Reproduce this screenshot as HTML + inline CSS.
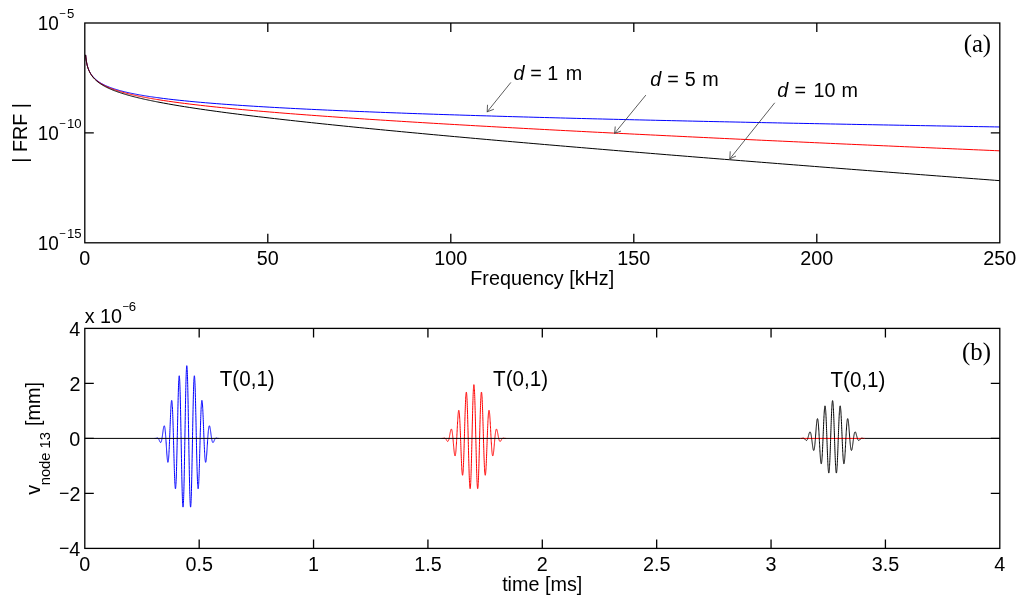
<!DOCTYPE html>
<html><head><meta charset="utf-8"><title>FRF and time response</title><style>
html,body{margin:0;padding:0;background:#fff;width:1024px;height:601px;overflow:hidden}
svg{display:block;will-change:transform}
</style></head><body>
<svg width="1024" height="601" viewBox="0 0 1024 601">
<rect width="1024" height="601" fill="#fff"/>
<polyline points="85.61,54.87 85.72,56.08 85.83,57.15 85.94,58.11 86.05,58.99 86.16,59.78 86.27,60.52 86.38,61.20 86.49,61.84 86.60,62.44 86.71,63.00 86.82,63.53 86.93,64.03 87.04,64.50 87.15,64.96 87.26,65.39 87.37,65.80 87.48,66.20 87.59,66.58 87.70,66.94 87.81,67.29 87.92,67.63 88.03,67.96 88.14,68.28 88.26,68.58 88.37,68.88 88.48,69.17 88.59,69.44 88.70,69.72 88.81,69.98 88.92,70.23 89.03,70.48 89.14,70.73 89.25,70.96 89.36,71.20 89.47,71.42 89.58,71.64 89.69,71.86 89.80,72.07 89.91,72.27 90.02,72.47 90.13,72.67 90.24,72.87 90.35,73.06 90.46,73.24 90.57,73.42 90.68,73.60 90.79,73.78 90.91,73.95 91.02,74.12 91.13,74.29 91.24,74.45 91.35,74.61 91.46,74.77 91.57,74.92 91.68,75.08 91.79,75.23 91.90,75.37 92.01,75.52 92.12,75.66 92.95,76.68 93.79,77.60 94.62,78.44 95.46,79.21 96.29,79.93 97.12,80.59 97.96,81.21 98.79,81.80 99.63,82.35 100.46,82.87 101.29,83.36 102.13,83.83 102.96,84.28 103.79,84.70 104.63,85.11 105.46,85.50 106.30,85.88 107.13,86.25 107.96,86.60 108.80,86.93 109.63,87.26 110.47,87.58 111.30,87.88 112.13,88.18 112.97,88.47 113.80,88.75 114.64,89.02 115.47,89.28 116.30,89.54 117.14,89.79 117.97,90.04 118.81,90.27 119.64,90.51 120.47,90.74 121.31,90.96 122.14,91.18 122.98,91.39 123.81,91.60 124.64,91.80 125.48,92.00 126.31,92.20 127.14,92.39 127.98,92.58 128.81,92.76 129.65,92.95 130.48,93.13 131.31,93.30 132.15,93.47 132.98,93.64 133.82,93.81 134.65,93.97 135.48,94.14 136.32,94.29 137.15,94.45 137.99,94.60 138.82,94.76 139.65,94.91 140.49,95.05 141.32,95.20 142.16,95.34 142.99,95.48 143.82,95.62 144.66,95.76 145.49,95.89 146.33,96.03 147.16,96.16 147.99,96.29 148.83,96.42 149.66,96.55 150.49,96.67 151.33,96.80 152.16,96.92 153.00,97.04 153.83,97.16 154.66,97.28 155.50,97.39 156.33,97.51 157.17,97.62 158.00,97.74 163.29,98.43 168.59,99.08 173.88,99.69 179.18,100.26 184.47,100.81 189.77,101.33 195.06,101.83 200.35,102.30 205.65,102.76 210.94,103.20 216.24,103.62 221.53,104.02 226.83,104.42 232.12,104.79 237.42,105.16 242.71,105.52 248.00,105.86 253.30,106.20 258.59,106.52 263.89,106.84 269.18,107.15 274.48,107.45 279.77,107.74 285.06,108.03 290.36,108.31 295.65,108.58 300.95,108.85 306.24,109.11 311.54,109.37 316.83,109.62 322.12,109.86 327.42,110.11 332.71,110.34 338.01,110.58 343.30,110.81 348.60,111.03 353.89,111.25 359.18,111.47 364.48,111.68 369.77,111.89 375.07,112.10 380.36,112.31 385.66,112.51 390.95,112.71 396.25,112.90 401.54,113.09 406.83,113.29 412.13,113.47 417.42,113.66 422.72,113.84 428.01,114.02 433.31,114.20 438.60,114.38 443.89,114.55 449.19,114.72 454.48,114.89 459.78,115.06 465.07,115.23 470.37,115.39 475.66,115.55 480.95,115.72 486.25,115.87 491.54,116.03 496.84,116.19 502.13,116.34 507.43,116.50 512.72,116.65 518.02,116.80 523.31,116.95 528.60,117.09 533.90,117.24 539.19,117.38 544.49,117.53 549.78,117.67 555.08,117.81 560.37,117.95 565.66,118.09 570.96,118.23 576.25,118.36 581.55,118.50 586.84,118.63 592.14,118.77 597.43,118.90 602.72,119.03 608.02,119.16 613.31,119.29 618.61,119.42 623.90,119.54 629.20,119.67 634.49,119.80 639.78,119.92 645.08,120.04 650.37,120.17 655.67,120.29 660.96,120.41 666.26,120.53 671.55,120.65 676.85,120.77 682.14,120.89 687.43,121.00 692.73,121.12 698.02,121.24 703.32,121.35 708.61,121.47 713.91,121.58 719.20,121.69 724.49,121.81 729.79,121.92 735.08,122.03 740.38,122.14 745.67,122.25 750.97,122.36 756.26,122.47 761.55,122.58 766.85,122.69 772.14,122.79 777.44,122.90 782.73,123.01 788.03,123.11 793.32,123.22 798.62,123.32 803.91,123.43 809.20,123.53 814.50,123.63 819.79,123.73 825.09,123.84 830.38,123.94 835.68,124.04 840.97,124.14 846.26,124.24 851.56,124.34 856.85,124.44 862.15,124.54 867.44,124.64 872.74,124.73 878.03,124.83 883.32,124.93 888.62,125.02 893.91,125.12 899.21,125.22 904.50,125.31 909.80,125.41 915.09,125.50 920.38,125.60 925.68,125.69 930.97,125.78 936.27,125.88 941.56,125.97 946.86,126.06 952.15,126.15 957.45,126.25 962.74,126.34 968.03,126.43 973.33,126.52 978.62,126.61 983.92,126.70 989.21,126.79 994.51,126.88 999.80,126.97" fill="none" stroke="#0000ff" stroke-width="1" stroke-linejoin="round"/>
<polyline points="85.61,54.89 85.72,56.11 85.83,57.18 85.94,58.14 86.05,59.02 86.16,59.82 86.27,60.56 86.38,61.24 86.49,61.88 86.60,62.48 86.71,63.05 86.82,63.58 86.93,64.08 87.04,64.56 87.15,65.02 87.26,65.45 87.37,65.87 87.48,66.27 87.59,66.65 87.70,67.02 87.81,67.37 87.92,67.71 88.03,68.04 88.14,68.36 88.26,68.67 88.37,68.97 88.48,69.26 88.59,69.54 88.70,69.82 88.81,70.08 88.92,70.34 89.03,70.59 89.14,70.84 89.25,71.08 89.36,71.31 89.47,71.54 89.58,71.77 89.69,71.98 89.80,72.20 89.91,72.41 90.02,72.61 90.13,72.81 90.24,73.01 90.35,73.20 90.46,73.39 90.57,73.57 90.68,73.76 90.79,73.93 90.91,74.11 91.02,74.28 91.13,74.45 91.24,74.62 91.35,74.78 91.46,74.94 91.57,75.10 91.68,75.25 91.79,75.41 91.90,75.56 92.01,75.71 92.12,75.85 92.95,76.90 93.79,77.84 94.62,78.70 95.46,79.49 96.29,80.23 97.12,80.91 97.96,81.56 98.79,82.16 99.63,82.73 100.46,83.27 101.29,83.79 102.13,84.28 102.96,84.75 103.79,85.20 104.63,85.63 105.46,86.04 106.30,86.44 107.13,86.83 107.96,87.20 108.80,87.56 109.63,87.91 110.47,88.25 111.30,88.57 112.13,88.89 112.97,89.20 113.80,89.50 114.64,89.80 115.47,90.08 116.30,90.36 117.14,90.63 117.97,90.90 118.81,91.16 119.64,91.42 120.47,91.67 121.31,91.91 122.14,92.15 122.98,92.38 123.81,92.62 124.64,92.84 125.48,93.06 126.31,93.28 127.14,93.50 127.98,93.71 128.81,93.91 129.65,94.12 130.48,94.32 131.31,94.51 132.15,94.71 132.98,94.90 133.82,95.09 134.65,95.27 135.48,95.46 136.32,95.64 137.15,95.82 137.99,95.99 138.82,96.16 139.65,96.34 140.49,96.50 141.32,96.67 142.16,96.84 142.99,97.00 143.82,97.16 144.66,97.32 145.49,97.48 146.33,97.63 147.16,97.79 147.99,97.94 148.83,98.09 149.66,98.24 150.49,98.38 151.33,98.53 152.16,98.67 153.00,98.82 153.83,98.96 154.66,99.10 155.50,99.24 156.33,99.37 157.17,99.51 158.00,99.65 163.29,100.47 168.59,101.26 173.88,102.01 179.18,102.72 184.47,103.41 189.77,104.07 195.06,104.70 200.35,105.32 205.65,105.91 210.94,106.49 216.24,107.05 221.53,107.59 226.83,108.12 232.12,108.64 237.42,109.14 242.71,109.63 248.00,110.12 253.30,110.59 258.59,111.05 263.89,111.51 269.18,111.95 274.48,112.39 279.77,112.82 285.06,113.25 290.36,113.67 295.65,114.08 300.95,114.48 306.24,114.88 311.54,115.28 316.83,115.67 322.12,116.05 327.42,116.43 332.71,116.81 338.01,117.18 343.30,117.55 348.60,117.91 353.89,118.27 359.18,118.62 364.48,118.98 369.77,119.33 375.07,119.67 380.36,120.01 385.66,120.35 390.95,120.69 396.25,121.02 401.54,121.35 406.83,121.68 412.13,122.01 417.42,122.33 422.72,122.65 428.01,122.97 433.31,123.29 438.60,123.60 443.89,123.91 449.19,124.22 454.48,124.53 459.78,124.84 465.07,125.14 470.37,125.45 475.66,125.75 480.95,126.05 486.25,126.34 491.54,126.64 496.84,126.93 502.13,127.23 507.43,127.52 512.72,127.81 518.02,128.09 523.31,128.38 528.60,128.67 533.90,128.95 539.19,129.23 544.49,129.51 549.78,129.79 555.08,130.07 560.37,130.35 565.66,130.63 570.96,130.90 576.25,131.18 581.55,131.45 586.84,131.72 592.14,132.00 597.43,132.27 602.72,132.53 608.02,132.80 613.31,133.07 618.61,133.34 623.90,133.60 629.20,133.87 634.49,134.13 639.78,134.39 645.08,134.65 650.37,134.91 655.67,135.17 660.96,135.43 666.26,135.69 671.55,135.95 676.85,136.21 682.14,136.46 687.43,136.72 692.73,136.97 698.02,137.23 703.32,137.48 708.61,137.73 713.91,137.99 719.20,138.24 724.49,138.49 729.79,138.74 735.08,138.99 740.38,139.24 745.67,139.48 750.97,139.73 756.26,139.98 761.55,140.23 766.85,140.47 772.14,140.72 777.44,140.96 782.73,141.21 788.03,141.45 793.32,141.69 798.62,141.93 803.91,142.18 809.20,142.42 814.50,142.66 819.79,142.90 825.09,143.14 830.38,143.38 835.68,143.62 840.97,143.86 846.26,144.10 851.56,144.33 856.85,144.57 862.15,144.81 867.44,145.04 872.74,145.28 878.03,145.52 883.32,145.75 888.62,145.98 893.91,146.22 899.21,146.45 904.50,146.69 909.80,146.92 915.09,147.15 920.38,147.38 925.68,147.62 930.97,147.85 936.27,148.08 941.56,148.31 946.86,148.54 952.15,148.77 957.45,149.00 962.74,149.23 968.03,149.46 973.33,149.69 978.62,149.92 983.92,150.14 989.21,150.37 994.51,150.60 999.80,150.83" fill="none" stroke="#ff0000" stroke-width="1" stroke-linejoin="round"/>
<polyline points="85.61,54.92 85.72,56.13 85.83,57.21 85.94,58.18 86.05,59.06 86.16,59.86 86.27,60.61 86.38,61.30 86.49,61.94 86.60,62.54 86.71,63.11 86.82,63.64 86.93,64.15 87.04,64.63 87.15,65.09 87.26,65.53 87.37,65.95 87.48,66.35 87.59,66.74 87.70,67.11 87.81,67.47 87.92,67.82 88.03,68.15 88.14,68.47 88.26,68.78 88.37,69.09 88.48,69.38 88.59,69.67 88.70,69.94 88.81,70.21 88.92,70.48 89.03,70.73 89.14,70.98 89.25,71.23 89.36,71.46 89.47,71.70 89.58,71.92 89.69,72.14 89.80,72.36 89.91,72.57 90.02,72.78 90.13,72.99 90.24,73.19 90.35,73.38 90.46,73.57 90.57,73.76 90.68,73.95 90.79,74.13 90.91,74.31 91.02,74.48 91.13,74.66 91.24,74.83 91.35,74.99 91.46,75.16 91.57,75.32 91.68,75.48 91.79,75.64 91.90,75.79 92.01,75.94 92.12,76.09 92.95,77.16 93.79,78.13 94.62,79.02 95.46,79.84 96.29,80.60 97.12,81.32 97.96,81.99 98.79,82.62 99.63,83.22 100.46,83.78 101.29,84.33 102.13,84.84 102.96,85.34 103.79,85.82 104.63,86.28 105.46,86.72 106.30,87.14 107.13,87.56 107.96,87.95 108.80,88.34 109.63,88.72 110.47,89.08 111.30,89.44 112.13,89.78 112.97,90.12 113.80,90.45 114.64,90.77 115.47,91.08 116.30,91.39 117.14,91.69 117.97,91.98 118.81,92.27 119.64,92.55 120.47,92.83 121.31,93.10 122.14,93.37 122.98,93.63 123.81,93.89 124.64,94.14 125.48,94.39 126.31,94.63 127.14,94.88 127.98,95.11 128.81,95.35 129.65,95.58 130.48,95.81 131.31,96.03 132.15,96.25 132.98,96.47 133.82,96.69 134.65,96.90 135.48,97.11 136.32,97.32 137.15,97.52 137.99,97.72 138.82,97.93 139.65,98.12 140.49,98.32 141.32,98.51 142.16,98.71 142.99,98.90 143.82,99.08 144.66,99.27 145.49,99.45 146.33,99.64 147.16,99.82 147.99,100.00 148.83,100.18 149.66,100.35 150.49,100.53 151.33,100.70 152.16,100.87 153.00,101.04 153.83,101.21 154.66,101.38 155.50,101.54 156.33,101.71 157.17,101.87 158.00,102.03 163.29,103.03 168.59,103.99 173.88,104.91 179.18,105.80 184.47,106.66 189.77,107.49 195.06,108.30 200.35,109.08 205.65,109.85 210.94,110.60 216.24,111.33 221.53,112.05 226.83,112.75 232.12,113.44 237.42,114.12 242.71,114.78 248.00,115.44 253.30,116.08 258.59,116.72 263.89,117.34 269.18,117.96 274.48,118.57 279.77,119.18 285.06,119.78 290.36,120.37 295.65,120.95 300.95,121.53 306.24,122.10 311.54,122.67 316.83,123.23 322.12,123.79 327.42,124.34 332.71,124.89 338.01,125.43 343.30,125.97 348.60,126.51 353.89,127.04 359.18,127.57 364.48,128.09 369.77,128.61 375.07,129.13 380.36,129.65 385.66,130.16 390.95,130.67 396.25,131.17 401.54,131.68 406.83,132.18 412.13,132.68 417.42,133.17 422.72,133.67 428.01,134.16 433.31,134.65 438.60,135.13 443.89,135.62 449.19,136.10 454.48,136.58 459.78,137.06 465.07,137.54 470.37,138.01 475.66,138.49 480.95,138.96 486.25,139.43 491.54,139.90 496.84,140.36 502.13,140.83 507.43,141.29 512.72,141.75 518.02,142.22 523.31,142.67 528.60,143.13 533.90,143.59 539.19,144.04 544.49,144.50 549.78,144.95 555.08,145.40 560.37,145.85 565.66,146.30 570.96,146.75 576.25,147.20 581.55,147.64 586.84,148.09 592.14,148.53 597.43,148.97 602.72,149.42 608.02,149.86 613.31,150.30 618.61,150.74 623.90,151.17 629.20,151.61 634.49,152.05 639.78,152.48 645.08,152.92 650.37,153.35 655.67,153.78 660.96,154.21 666.26,154.65 671.55,155.08 676.85,155.51 682.14,155.93 687.43,156.36 692.73,156.79 698.02,157.22 703.32,157.64 708.61,158.07 713.91,158.49 719.20,158.92 724.49,159.34 729.79,159.76 735.08,160.18 740.38,160.61 745.67,161.03 750.97,161.45 756.26,161.87 761.55,162.29 766.85,162.70 772.14,163.12 777.44,163.54 782.73,163.96 788.03,164.37 793.32,164.79 798.62,165.20 803.91,165.62 809.20,166.03 814.50,166.44 819.79,166.86 825.09,167.27 830.38,167.68 835.68,168.09 840.97,168.51 846.26,168.92 851.56,169.33 856.85,169.74 862.15,170.15 867.44,170.55 872.74,170.96 878.03,171.37 883.32,171.78 888.62,172.19 893.91,172.59 899.21,173.00 904.50,173.41 909.80,173.81 915.09,174.22 920.38,174.62 925.68,175.03 930.97,175.43 936.27,175.83 941.56,176.24 946.86,176.64 952.15,177.04 957.45,177.45 962.74,177.85 968.03,178.25 973.33,178.65 978.62,179.05 983.92,179.45 989.21,179.85 994.51,180.25 999.80,180.65" fill="none" stroke="#000000" stroke-width="1" stroke-linejoin="round"/>
<path d="M267.80,242.8V233.8M267.80,23.0V32.0M450.80,242.8V233.8M450.80,23.0V32.0M633.80,242.8V233.8M633.80,23.0V32.0M816.80,242.8V233.8M816.80,23.0V32.0M84.8,132.90H93.8M999.8,132.90H990.8" stroke="#000" stroke-width="1.3" fill="none"/>
<rect x="84.8" y="23.0" width="915.0" height="219.8" stroke="#000" stroke-width="1.3" fill="none"/>
<text transform="translate(84.80 264.90) scale(0.97 1)" font-size="20.4" font-family="&quot;Liberation Sans&quot;, sans-serif" text-anchor="middle">0</text>
<text transform="translate(267.80 264.90) scale(0.97 1)" font-size="20.4" font-family="&quot;Liberation Sans&quot;, sans-serif" text-anchor="middle">50</text>
<text transform="translate(450.80 264.90) scale(0.97 1)" font-size="20.4" font-family="&quot;Liberation Sans&quot;, sans-serif" text-anchor="middle">100</text>
<text transform="translate(633.80 264.90) scale(0.97 1)" font-size="20.4" font-family="&quot;Liberation Sans&quot;, sans-serif" text-anchor="middle">150</text>
<text transform="translate(816.80 264.90) scale(0.97 1)" font-size="20.4" font-family="&quot;Liberation Sans&quot;, sans-serif" text-anchor="middle">200</text>
<text transform="translate(999.80 264.90) scale(0.97 1)" font-size="20.4" font-family="&quot;Liberation Sans&quot;, sans-serif" text-anchor="middle">250</text>
<text transform="translate(37.75 30.30) scale(0.93 1)" font-size="20.4" font-family="&quot;Liberation Sans&quot;, sans-serif" text-anchor="start">10</text>
<text transform="translate(59.33 17.32)" font-size="11.5" font-family="&quot;Liberation Sans&quot;, sans-serif" text-anchor="start">−</text>
<text transform="translate(66.90 18.20) scale(0.97 1)" font-size="13.6" font-family="&quot;Liberation Sans&quot;, sans-serif" text-anchor="start">5</text>
<text transform="translate(37.75 140.20) scale(0.93 1)" font-size="20.4" font-family="&quot;Liberation Sans&quot;, sans-serif" text-anchor="start">10</text>
<text transform="translate(59.33 127.22)" font-size="11.5" font-family="&quot;Liberation Sans&quot;, sans-serif" text-anchor="start">−</text>
<text transform="translate(66.90 128.10) scale(0.97 1)" font-size="13.6" font-family="&quot;Liberation Sans&quot;, sans-serif" text-anchor="start">10</text>
<text transform="translate(37.75 250.10) scale(0.93 1)" font-size="20.4" font-family="&quot;Liberation Sans&quot;, sans-serif" text-anchor="start">10</text>
<text transform="translate(59.33 237.12)" font-size="11.5" font-family="&quot;Liberation Sans&quot;, sans-serif" text-anchor="start">−</text>
<text transform="translate(66.90 238.00) scale(0.97 1)" font-size="13.6" font-family="&quot;Liberation Sans&quot;, sans-serif" text-anchor="start">15</text>
<text transform="translate(470.26 285.00) scale(0.97 1)" font-size="20.4" font-family="&quot;Liberation Sans&quot;, sans-serif" text-anchor="start">Frequency [kHz]</text>
<text transform="translate(26.60 132.90) rotate(-90) scale(0.97 1)" font-size="20.4" font-family="&quot;Liberation Sans&quot;, sans-serif" text-anchor="middle">| FRF |</text>
<path d="M510.6,82.75L487.2,111.8M487.5,105.2L487.2,111.8L493.5,109.4" stroke="#404040" stroke-width="0.85" fill="none" stroke-linecap="round"/>
<path d="M645.6,95.4L614.6,133.3M615.2,126.9L614.6,133.3L620.6,131.2" stroke="#404040" stroke-width="0.85" fill="none" stroke-linecap="round"/>
<path d="M774.5,103.1L729.8,158.9M730.2,151.7L729.8,158.9L735.6,156.2" stroke="#404040" stroke-width="0.85" fill="none" stroke-linecap="round"/>
<text transform="translate(513.53 79.80) scale(0.97 1)" font-size="20.4" font-family="&quot;Liberation Sans&quot;, sans-serif" text-anchor="start" font-style="italic">d</text>
<text transform="translate(530.13 79.80) scale(0.97 1)" font-size="20.4" font-family="&quot;Liberation Sans&quot;, sans-serif" text-anchor="start">=</text>
<text transform="translate(547.33 79.80) scale(0.97 1)" font-size="20.4" font-family="&quot;Liberation Sans&quot;, sans-serif" text-anchor="start">1</text>
<text transform="translate(565.69 79.80) scale(0.97 1)" font-size="20.4" font-family="&quot;Liberation Sans&quot;, sans-serif" text-anchor="start">m</text>
<text transform="translate(650.23 85.90) scale(0.97 1)" font-size="20.4" font-family="&quot;Liberation Sans&quot;, sans-serif" text-anchor="start" font-style="italic">d</text>
<text transform="translate(667.13 85.90) scale(0.97 1)" font-size="20.4" font-family="&quot;Liberation Sans&quot;, sans-serif" text-anchor="start">=</text>
<text transform="translate(684.82 85.90) scale(0.97 1)" font-size="20.4" font-family="&quot;Liberation Sans&quot;, sans-serif" text-anchor="start">5</text>
<text transform="translate(702.19 85.90) scale(0.97 1)" font-size="20.4" font-family="&quot;Liberation Sans&quot;, sans-serif" text-anchor="start">m</text>
<text transform="translate(777.33 97.00) scale(0.97 1)" font-size="20.4" font-family="&quot;Liberation Sans&quot;, sans-serif" text-anchor="start" font-style="italic">d</text>
<text transform="translate(794.43 97.00) scale(0.97 1)" font-size="20.4" font-family="&quot;Liberation Sans&quot;, sans-serif" text-anchor="start">=</text>
<text transform="translate(813.48 97.00) scale(0.97 1)" font-size="20.4" font-family="&quot;Liberation Sans&quot;, sans-serif" text-anchor="start">10</text>
<text transform="translate(841.49 97.00) scale(0.97 1)" font-size="20.4" font-family="&quot;Liberation Sans&quot;, sans-serif" text-anchor="start">m</text>
<text transform="translate(963.63 52.20) scale(1.02 1)" font-size="24.3" font-family="&quot;Liberation Serif&quot;, serif" text-anchor="start">(a)</text>
<path d="M800.41,438.40H864.76" stroke="#ff0000" stroke-width="1"/>
<polyline points="154.62,438.40 154.69,438.40 154.77,438.40 154.84,438.40 154.91,438.40 154.98,438.40 155.05,438.40 155.12,438.40 155.19,438.40 155.27,438.40 155.34,438.40 155.41,438.40 155.48,438.40 155.55,438.40 155.62,438.40 155.70,438.40 155.77,438.39 155.84,438.38 155.91,438.38 155.98,438.36 156.05,438.35 156.13,438.34 156.20,438.32 156.27,438.30 156.34,438.28 156.41,438.26 156.48,438.24 156.55,438.21 156.63,438.19 156.70,438.17 156.77,438.14 156.84,438.12 156.91,438.10 156.98,438.07 157.06,438.06 157.13,438.04 157.20,438.03 157.27,438.01 157.34,438.01 157.41,438.01 157.49,438.01 157.56,438.02 157.63,438.03 157.70,438.05 157.77,438.07 157.84,438.11 157.92,438.15 157.99,438.19 158.06,438.25 158.13,438.31 158.20,438.38 158.27,438.46 158.34,438.55 158.42,438.64 158.49,438.75 158.56,438.86 158.63,438.98 158.70,439.10 158.77,439.23 158.85,439.37 158.92,439.52 158.99,439.67 159.06,439.82 159.13,439.98 159.20,440.15 159.28,440.31 159.35,440.48 159.42,440.65 159.49,440.82 159.56,440.98 159.63,441.15 159.70,441.31 159.78,441.46 159.85,441.61 159.92,441.76 159.99,441.89 160.06,442.02 160.13,442.14 160.21,442.24 160.28,442.33 160.35,442.41 160.42,442.47 160.49,442.52 160.56,442.54 160.64,442.55 160.71,442.54 160.78,442.51 160.85,442.46 160.92,442.39 160.99,442.29 161.06,442.18 161.14,442.03 161.21,441.87 161.28,441.68 161.35,441.46 161.42,441.22 161.49,440.96 161.57,440.67 161.64,440.36 161.71,440.02 161.78,439.67 161.85,439.29 161.92,438.89 162.00,438.47 162.07,438.03 162.14,437.57 162.21,437.10 162.28,436.61 162.35,436.11 162.42,435.59 162.50,435.07 162.57,434.54 162.64,434.01 162.71,433.47 162.78,432.93 162.85,432.39 162.93,431.86 163.00,431.33 163.07,430.81 163.14,430.31 163.21,429.81 163.28,429.34 163.36,428.88 163.43,428.44 163.50,428.03 163.57,427.65 163.64,427.30 163.71,426.97 163.79,426.68 163.86,426.43 163.93,426.22 164.00,426.05 164.07,425.92 164.14,425.83 164.21,425.79 164.29,425.80 164.36,425.86 164.43,425.97 164.50,426.13 164.57,426.34 164.64,426.60 164.72,426.92 164.79,427.29 164.86,427.71 164.93,428.19 165.00,428.72 165.07,429.30 165.15,429.93 165.22,430.62 165.29,431.35 165.36,432.12 165.43,432.94 165.50,433.80 165.57,434.71 165.65,435.65 165.72,436.62 165.79,437.63 165.86,438.66 165.93,439.72 166.00,440.80 166.08,441.90 166.15,443.01 166.22,444.13 166.29,445.26 166.36,446.38 166.43,447.50 166.51,448.62 166.58,449.72 166.65,450.81 166.72,451.87 166.79,452.91 166.86,453.91 166.93,454.88 167.01,455.81 167.08,456.69 167.15,457.53 167.22,458.31 167.29,459.03 167.36,459.69 167.44,460.29 167.51,460.82 167.58,461.27 167.65,461.65 167.72,461.95 167.79,462.16 167.87,462.30 167.94,462.34 168.01,462.30 168.08,462.17 168.15,461.95 168.22,461.63 168.29,461.22 168.37,460.72 168.44,460.13 168.51,459.45 168.58,458.67 168.65,457.80 168.72,456.85 168.80,455.81 168.87,454.68 168.94,453.48 169.01,452.19 169.08,450.83 169.15,449.40 169.23,447.91 169.30,446.35 169.37,444.73 169.44,443.06 169.51,441.35 169.58,439.59 169.65,437.80 169.73,435.98 169.80,434.14 169.87,432.28 169.94,430.41 170.01,428.54 170.08,426.67 170.16,424.81 170.23,422.97 170.30,421.16 170.37,419.38 170.44,417.64 170.51,415.95 170.59,414.31 170.66,412.73 170.73,411.22 170.80,409.78 170.87,408.42 170.94,407.15 171.02,405.98 171.09,404.90 171.16,403.92 171.23,403.06 171.30,402.31 171.37,401.67 171.44,401.16 171.52,400.77 171.59,400.52 171.66,400.39 171.73,400.40 171.80,400.54 171.87,400.82 171.95,401.24 172.02,401.80 172.09,402.49 172.16,403.32 172.23,404.29 172.30,405.39 172.38,406.62 172.45,407.98 172.52,409.46 172.59,411.07 172.66,412.79 172.73,414.62 172.80,416.56 172.88,418.60 172.95,420.74 173.02,422.96 173.09,425.26 173.16,427.64 173.23,430.08 173.31,432.58 173.38,435.12 173.45,437.71 173.52,440.32 173.59,442.96 173.66,445.61 173.74,448.26 173.81,450.91 173.88,453.54 173.95,456.14 174.02,458.70 174.09,461.22 174.16,463.68 174.24,466.08 174.31,468.40 174.38,470.64 174.45,472.78 174.52,474.83 174.59,476.76 174.67,478.57 174.74,480.26 174.81,481.81 174.88,483.23 174.95,484.49 175.02,485.60 175.10,486.56 175.17,487.35 175.24,487.97 175.31,488.42 175.38,488.69 175.45,488.78 175.52,488.70 175.60,488.44 175.67,487.99 175.74,487.36 175.81,486.55 175.88,485.56 175.95,484.39 176.03,483.05 176.10,481.53 176.17,479.85 176.24,478.00 176.31,476.00 176.38,473.84 176.46,471.54 176.53,469.10 176.60,466.53 176.67,463.83 176.74,461.03 176.81,458.11 176.89,455.11 176.96,452.02 177.03,448.85 177.10,445.62 177.17,442.34 177.24,439.02 177.31,435.67 177.39,432.30 177.46,428.92 177.53,425.56 177.60,422.21 177.67,418.89 177.74,415.62 177.82,412.40 177.89,409.25 177.96,406.18 178.03,403.20 178.10,400.32 178.17,397.55 178.25,394.91 178.32,392.40 178.39,390.04 178.46,387.83 178.53,385.78 178.60,383.90 178.67,382.20 178.75,380.69 178.82,379.37 178.89,378.24 178.96,377.32 179.03,376.61 179.10,376.11 179.18,375.82 179.25,375.75 179.32,375.90 179.39,376.27 179.46,376.86 179.53,377.67 179.61,378.69 179.68,379.92 179.75,381.37 179.82,383.02 179.89,384.88 179.96,386.93 180.03,389.17 180.11,391.59 180.18,394.19 180.25,396.95 180.32,399.87 180.39,402.94 180.46,406.15 180.54,409.48 180.61,412.93 180.68,416.48 180.75,420.12 180.82,423.85 180.89,427.63 180.97,431.47 181.04,435.35 181.11,439.25 181.18,443.17 181.25,447.08 181.32,450.97 181.39,454.84 181.47,458.66 181.54,462.42 181.61,466.11 181.68,469.71 181.75,473.21 181.82,476.61 181.90,479.88 181.97,483.01 182.04,485.99 182.11,488.82 182.18,491.47 182.25,493.95 182.33,496.23 182.40,498.32 182.47,500.20 182.54,501.87 182.61,503.32 182.68,504.54 182.76,505.53 182.83,506.29 182.90,506.81 182.97,507.08 183.04,507.12 183.11,506.90 183.18,506.45 183.26,505.75 183.33,504.82 183.40,503.64 183.47,502.23 183.54,500.59 183.61,498.73 183.69,496.64 183.76,494.35 183.83,491.85 183.90,489.15 183.97,486.27 184.04,483.22 184.12,479.99 184.19,476.62 184.26,473.10 184.33,469.44 184.40,465.68 184.47,461.80 184.54,457.84 184.62,453.79 184.69,449.69 184.76,445.54 184.83,441.35 184.90,437.14 184.97,432.93 185.05,428.73 185.12,424.56 185.19,420.43 185.26,416.35 185.33,412.35 185.40,408.43 185.48,404.60 185.55,400.89 185.62,397.31 185.69,393.86 185.76,390.57 185.83,387.44 185.90,384.48 185.98,381.70 186.05,379.12 186.12,376.75 186.19,374.59 186.26,372.64 186.33,370.93 186.41,369.45 186.48,368.20 186.55,367.20 186.62,366.45 186.69,365.95 186.76,365.69 186.84,365.69 186.91,365.95 186.98,366.45 187.05,367.20 187.12,368.20 187.19,369.45 187.26,370.93 187.34,372.64 187.41,374.59 187.48,376.75 187.55,379.12 187.62,381.70 187.69,384.48 187.77,387.44 187.84,390.57 187.91,393.86 187.98,397.31 188.05,400.89 188.12,404.60 188.20,408.43 188.27,412.35 188.34,416.35 188.41,420.43 188.48,424.56 188.55,428.73 188.63,432.93 188.70,437.14 188.77,441.35 188.84,445.54 188.91,449.69 188.98,453.79 189.05,457.84 189.13,461.80 189.20,465.68 189.27,469.44 189.34,473.10 189.41,476.62 189.48,479.99 189.56,483.22 189.63,486.27 189.70,489.15 189.77,491.85 189.84,494.35 189.91,496.64 189.99,498.73 190.06,500.59 190.13,502.23 190.20,503.64 190.27,504.82 190.34,505.75 190.41,506.45 190.49,506.90 190.56,507.12 190.63,507.08 190.70,506.81 190.77,506.29 190.84,505.53 190.92,504.54 190.99,503.32 191.06,501.87 191.13,500.20 191.20,498.32 191.27,496.23 191.35,493.95 191.42,491.47 191.49,488.82 191.56,485.99 191.63,483.01 191.70,479.88 191.77,476.61 191.85,473.21 191.92,469.71 191.99,466.11 192.06,462.42 192.13,458.66 192.20,454.84 192.28,450.97 192.35,447.08 192.42,443.17 192.49,439.25 192.56,435.35 192.63,431.47 192.71,427.63 192.78,423.85 192.85,420.12 192.92,416.48 192.99,412.93 193.06,409.48 193.13,406.15 193.21,402.94 193.28,399.87 193.35,396.95 193.42,394.19 193.49,391.59 193.56,389.17 193.64,386.93 193.71,384.88 193.78,383.02 193.85,381.37 193.92,379.92 193.99,378.69 194.07,377.67 194.14,376.86 194.21,376.27 194.28,375.90 194.35,375.75 194.42,375.82 194.50,376.11 194.57,376.61 194.64,377.32 194.71,378.24 194.78,379.37 194.85,380.69 194.92,382.20 195.00,383.90 195.07,385.78 195.14,387.83 195.21,390.04 195.28,392.40 195.35,394.91 195.43,397.55 195.50,400.32 195.57,403.20 195.64,406.18 195.71,409.25 195.78,412.40 195.86,415.62 195.93,418.89 196.00,422.21 196.07,425.56 196.14,428.92 196.21,432.30 196.28,435.67 196.36,439.02 196.43,442.34 196.50,445.62 196.57,448.85 196.64,452.02 196.71,455.11 196.79,458.11 196.86,461.03 196.93,463.83 197.00,466.53 197.07,469.10 197.14,471.54 197.22,473.84 197.29,476.00 197.36,478.00 197.43,479.85 197.50,481.53 197.57,483.05 197.64,484.39 197.72,485.56 197.79,486.55 197.86,487.36 197.93,487.99 198.00,488.44 198.07,488.70 198.15,488.78 198.22,488.69 198.29,488.42 198.36,487.97 198.43,487.35 198.50,486.56 198.58,485.60 198.65,484.49 198.72,483.23 198.79,481.81 198.86,480.26 198.93,478.57 199.00,476.76 199.08,474.83 199.15,472.78 199.22,470.64 199.29,468.40 199.36,466.08 199.43,463.68 199.51,461.22 199.58,458.70 199.65,456.14 199.72,453.54 199.79,450.91 199.86,448.26 199.94,445.61 200.01,442.96 200.08,440.32 200.15,437.71 200.22,435.12 200.29,432.58 200.37,430.08 200.44,427.64 200.51,425.26 200.58,422.96 200.65,420.74 200.72,418.60 200.79,416.56 200.87,414.62 200.94,412.79 201.01,411.07 201.08,409.46 201.15,407.98 201.22,406.62 201.30,405.39 201.37,404.29 201.44,403.32 201.51,402.49 201.58,401.80 201.65,401.24 201.73,400.82 201.80,400.54 201.87,400.40 201.94,400.39 202.01,400.52 202.08,400.77 202.15,401.16 202.23,401.67 202.30,402.31 202.37,403.06 202.44,403.92 202.51,404.90 202.58,405.98 202.66,407.15 202.73,408.42 202.80,409.78 202.87,411.22 202.94,412.73 203.01,414.31 203.09,415.95 203.16,417.64 203.23,419.38 203.30,421.16 203.37,422.97 203.44,424.81 203.51,426.67 203.59,428.54 203.66,430.41 203.73,432.28 203.80,434.14 203.87,435.98 203.94,437.80 204.02,439.59 204.09,441.35 204.16,443.06 204.23,444.73 204.30,446.35 204.37,447.91 204.45,449.40 204.52,450.83 204.59,452.19 204.66,453.48 204.73,454.68 204.80,455.81 204.87,456.85 204.95,457.80 205.02,458.67 205.09,459.45 205.16,460.13 205.23,460.72 205.30,461.22 205.38,461.63 205.45,461.95 205.52,462.17 205.59,462.30 205.66,462.34 205.73,462.30 205.81,462.16 205.88,461.95 205.95,461.65 206.02,461.27 206.09,460.82 206.16,460.29 206.23,459.69 206.31,459.03 206.38,458.31 206.45,457.53 206.52,456.69 206.59,455.81 206.66,454.88 206.74,453.91 206.81,452.91 206.88,451.87 206.95,450.81 207.02,449.72 207.09,448.62 207.17,447.50 207.24,446.38 207.31,445.26 207.38,444.13 207.45,443.01 207.52,441.90 207.60,440.80 207.67,439.72 207.74,438.66 207.81,437.63 207.88,436.62 207.95,435.65 208.02,434.71 208.10,433.80 208.17,432.94 208.24,432.12 208.31,431.35 208.38,430.62 208.45,429.93 208.53,429.30 208.60,428.72 208.67,428.19 208.74,427.71 208.81,427.29 208.88,426.92 208.96,426.60 209.03,426.34 209.10,426.13 209.17,425.97 209.24,425.86 209.31,425.80 209.38,425.79 209.46,425.83 209.53,425.92 209.60,426.05 209.67,426.22 209.74,426.43 209.81,426.68 209.89,426.97 209.96,427.30 210.03,427.65 210.10,428.03 210.17,428.44 210.24,428.88 210.32,429.34 210.39,429.81 210.46,430.31 210.53,430.81 210.60,431.33 210.67,431.86 210.74,432.39 210.82,432.93 210.89,433.47 210.96,434.01 211.03,434.54 211.10,435.07 211.17,435.59 211.25,436.11 211.32,436.61 211.39,437.10 211.46,437.57 211.53,438.03 211.60,438.47 211.68,438.89 211.75,439.29 211.82,439.67 211.89,440.02 211.96,440.36 212.03,440.67 212.10,440.96 212.18,441.22 212.25,441.46 212.32,441.68 212.39,441.87 212.46,442.03 212.53,442.18 212.61,442.29 212.68,442.39 212.75,442.46 212.82,442.51 212.89,442.54 212.96,442.55 213.04,442.54 213.11,442.52 213.18,442.47 213.25,442.41 213.32,442.33 213.39,442.24 213.47,442.14 213.54,442.02 213.61,441.89 213.68,441.76 213.75,441.61 213.82,441.46 213.89,441.31 213.97,441.15 214.04,440.98 214.11,440.82 214.18,440.65 214.25,440.48 214.32,440.31 214.40,440.15 214.47,439.98 214.54,439.82 214.61,439.67 214.68,439.52 214.75,439.37 214.83,439.23 214.90,439.10 214.97,438.98 215.04,438.86 215.11,438.75 215.18,438.64 215.25,438.55 215.33,438.46 215.40,438.38 215.47,438.31 215.54,438.25 215.61,438.19 215.68,438.15 215.76,438.11 215.83,438.07 215.90,438.05 215.97,438.03 216.04,438.02 216.11,438.01 216.19,438.01 216.26,438.01 216.33,438.01 216.40,438.03 216.47,438.04 216.54,438.06 216.61,438.07 216.69,438.10 216.76,438.12 216.83,438.14 216.90,438.17 216.97,438.19 217.04,438.21 217.12,438.24 217.19,438.26 217.26,438.28 217.33,438.30 217.40,438.32 217.47,438.34 217.55,438.35 217.62,438.36 217.69,438.38 217.76,438.38 217.83,438.39 217.90,438.40 217.97,438.40 218.05,438.40 218.12,438.40 218.19,438.40 218.26,438.40 218.33,438.40 218.40,438.40 218.48,438.40 218.55,438.40 218.62,438.40 218.69,438.40 218.76,438.40 218.83,438.40 218.91,438.40 218.98,438.40" fill="none" stroke="#0000ff" stroke-width="1" stroke-linejoin="round"/>
<polyline points="441.73,438.40 441.80,438.40 441.87,438.40 441.94,438.40 442.01,438.40 442.08,438.40 442.16,438.40 442.23,438.40 442.30,438.40 442.37,438.40 442.44,438.40 442.51,438.40 442.59,438.40 442.66,438.40 442.73,438.40 442.80,438.40 442.87,438.39 442.94,438.39 443.01,438.38 443.09,438.37 443.16,438.36 443.23,438.35 443.30,438.34 443.37,438.33 443.44,438.31 443.52,438.30 443.59,438.28 443.66,438.26 443.73,438.24 443.80,438.23 443.87,438.21 443.95,438.19 444.02,438.18 444.09,438.16 444.16,438.15 444.23,438.13 444.30,438.12 444.37,438.11 444.45,438.11 444.52,438.11 444.59,438.11 444.66,438.11 444.73,438.12 444.80,438.14 444.88,438.16 444.95,438.18 445.02,438.21 445.09,438.24 445.16,438.28 445.23,438.33 445.31,438.38 445.38,438.44 445.45,438.50 445.52,438.57 445.59,438.65 445.66,438.73 445.74,438.82 445.81,438.91 445.88,439.01 445.95,439.11 446.02,439.21 446.09,439.32 446.16,439.44 446.24,439.56 446.31,439.68 446.38,439.80 446.45,439.92 446.52,440.04 446.59,440.17 446.67,440.29 446.74,440.41 446.81,440.53 446.88,440.64 446.95,440.75 447.02,440.86 447.10,440.96 447.17,441.05 447.24,441.13 447.31,441.21 447.38,441.28 447.45,441.33 447.52,441.38 447.60,441.41 447.67,441.43 447.74,441.44 447.81,441.43 447.88,441.41 447.95,441.37 448.03,441.32 448.10,441.24 448.17,441.16 448.24,441.05 448.31,440.93 448.38,440.79 448.46,440.63 448.53,440.45 448.60,440.26 448.67,440.05 448.74,439.82 448.81,439.57 448.88,439.31 448.96,439.03 449.03,438.73 449.10,438.42 449.17,438.10 449.24,437.76 449.31,437.41 449.39,437.05 449.46,436.68 449.53,436.30 449.60,435.92 449.67,435.53 449.74,435.14 449.82,434.74 449.89,434.34 449.96,433.95 450.03,433.55 450.10,433.17 450.17,432.78 450.24,432.41 450.32,432.05 450.39,431.70 450.46,431.36 450.53,431.04 450.60,430.74 450.67,430.45 450.75,430.19 450.82,429.95 450.89,429.74 450.96,429.55 451.03,429.40 451.10,429.27 451.18,429.17 451.25,429.11 451.32,429.08 451.39,429.09 451.46,429.13 451.53,429.21 451.60,429.32 451.68,429.48 451.75,429.67 451.82,429.90 451.89,430.18 451.96,430.49 452.03,430.84 452.11,431.23 452.18,431.65 452.25,432.12 452.32,432.62 452.39,433.15 452.46,433.72 452.54,434.33 452.61,434.96 452.68,435.62 452.75,436.31 452.82,437.03 452.89,437.77 452.97,438.53 453.04,439.31 453.11,440.10 453.18,440.91 453.25,441.72 453.32,442.55 453.39,443.37 453.47,444.20 453.54,445.02 453.61,445.84 453.68,446.65 453.75,447.45 453.82,448.23 453.90,448.99 453.97,449.73 454.04,450.44 454.11,451.13 454.18,451.77 454.25,452.39 454.33,452.96 454.40,453.49 454.47,453.98 454.54,454.42 454.61,454.80 454.68,455.13 454.75,455.41 454.83,455.63 454.90,455.79 454.97,455.89 455.04,455.92 455.11,455.89 455.18,455.79 455.26,455.63 455.33,455.39 455.40,455.09 455.47,454.72 455.54,454.29 455.61,453.78 455.69,453.21 455.76,452.57 455.83,451.87 455.90,451.10 455.97,450.27 456.04,449.39 456.11,448.44 456.19,447.44 456.26,446.39 456.33,445.29 456.40,444.14 456.47,442.95 456.54,441.72 456.62,440.46 456.69,439.17 456.76,437.85 456.83,436.51 456.90,435.15 456.97,433.78 457.05,432.41 457.12,431.03 457.19,429.65 457.26,428.29 457.33,426.93 457.40,425.60 457.47,424.29 457.55,423.01 457.62,421.76 457.69,420.55 457.76,419.39 457.83,418.28 457.90,417.22 457.98,416.22 458.05,415.29 458.12,414.42 458.19,413.63 458.26,412.91 458.33,412.27 458.41,411.72 458.48,411.25 458.55,410.87 458.62,410.59 458.69,410.40 458.76,410.31 458.84,410.31 458.91,410.42 458.98,410.62 459.05,410.93 459.12,411.34 459.19,411.85 459.26,412.45 459.34,413.16 459.41,413.97 459.48,414.88 459.55,415.87 459.62,416.97 459.69,418.14 459.77,419.41 459.84,420.76 459.91,422.18 459.98,423.68 460.05,425.25 460.12,426.89 460.20,428.58 460.27,430.33 460.34,432.12 460.41,433.96 460.48,435.83 460.55,437.73 460.62,439.65 460.70,441.59 460.77,443.54 460.84,445.49 460.91,447.43 460.98,449.37 461.05,451.28 461.13,453.16 461.20,455.01 461.27,456.82 461.34,458.59 461.41,460.29 461.48,461.94 461.56,463.51 461.63,465.02 461.70,466.44 461.77,467.77 461.84,469.01 461.91,470.15 461.98,471.19 462.06,472.12 462.13,472.93 462.20,473.63 462.27,474.21 462.34,474.67 462.41,475.00 462.49,475.20 462.56,475.27 462.63,475.21 462.70,475.01 462.77,474.68 462.84,474.22 462.92,473.62 462.99,472.89 463.06,472.03 463.13,471.04 463.20,469.93 463.27,468.69 463.34,467.33 463.42,465.85 463.49,464.27 463.56,462.57 463.63,460.78 463.70,458.89 463.77,456.90 463.85,454.84 463.92,452.70 463.99,450.48 464.06,448.21 464.13,445.88 464.20,443.50 464.28,441.09 464.35,438.65 464.42,436.18 464.49,433.70 464.56,431.22 464.63,428.74 464.71,426.28 464.78,423.84 464.85,421.43 464.92,419.06 464.99,416.74 465.06,414.48 465.13,412.29 465.21,410.17 465.28,408.14 465.35,406.19 465.42,404.35 465.49,402.61 465.56,400.98 465.64,399.48 465.71,398.09 465.78,396.84 465.85,395.73 465.92,394.76 465.99,393.93 466.07,393.25 466.14,392.73 466.21,392.36 466.28,392.15 466.35,392.10 466.42,392.21 466.49,392.48 466.57,392.91 466.64,393.50 466.71,394.25 466.78,395.16 466.85,396.22 466.92,397.44 467.00,398.80 467.07,400.31 467.14,401.95 467.21,403.74 467.28,405.65 467.35,407.68 467.43,409.83 467.50,412.08 467.57,414.44 467.64,416.89 467.71,419.43 467.78,422.04 467.85,424.72 467.93,427.45 468.00,430.24 468.07,433.06 468.14,435.91 468.21,438.78 468.28,441.66 468.36,444.54 468.43,447.40 468.50,450.24 468.57,453.05 468.64,455.82 468.71,458.53 468.79,461.18 468.86,463.76 468.93,466.25 469.00,468.66 469.07,470.96 469.14,473.15 469.21,475.23 469.29,477.18 469.36,479.00 469.43,480.68 469.50,482.22 469.57,483.60 469.64,484.83 469.72,485.90 469.79,486.79 469.86,487.52 469.93,488.08 470.00,488.46 470.07,488.66 470.15,488.68 470.22,488.53 470.29,488.19 470.36,487.68 470.43,486.99 470.50,486.13 470.58,485.09 470.65,483.88 470.72,482.51 470.79,480.98 470.86,479.29 470.93,477.45 471.00,475.47 471.08,473.35 471.15,471.10 471.22,468.73 471.29,466.25 471.36,463.66 471.43,460.97 471.51,458.20 471.58,455.35 471.65,452.43 471.72,449.46 471.79,446.44 471.86,443.39 471.94,440.31 472.01,437.21 472.08,434.12 472.15,431.03 472.22,427.96 472.29,424.92 472.36,421.92 472.44,418.98 472.51,416.09 472.58,413.28 472.65,410.55 472.72,407.91 472.79,405.38 472.87,402.96 472.94,400.65 473.01,398.48 473.08,396.44 473.15,394.54 473.22,392.79 473.30,391.20 473.37,389.77 473.44,388.51 473.51,387.42 473.58,386.51 473.65,385.77 473.72,385.22 473.80,384.85 473.87,384.66 473.94,384.66 474.01,384.85 474.08,385.22 474.15,385.77 474.23,386.51 474.30,387.42 474.37,388.51 474.44,389.77 474.51,391.20 474.58,392.79 474.66,394.54 474.73,396.44 474.80,398.48 474.87,400.65 474.94,402.96 475.01,405.38 475.08,407.91 475.16,410.55 475.23,413.28 475.30,416.09 475.37,418.98 475.44,421.92 475.51,424.92 475.59,427.96 475.66,431.03 475.73,434.12 475.80,437.21 475.87,440.31 475.94,443.39 476.02,446.44 476.09,449.46 476.16,452.43 476.23,455.35 476.30,458.20 476.37,460.97 476.45,463.66 476.52,466.25 476.59,468.73 476.66,471.10 476.73,473.35 476.80,475.47 476.87,477.45 476.95,479.29 477.02,480.98 477.09,482.51 477.16,483.88 477.23,485.09 477.30,486.13 477.38,486.99 477.45,487.68 477.52,488.19 477.59,488.53 477.66,488.68 477.73,488.66 477.81,488.46 477.88,488.08 477.95,487.52 478.02,486.79 478.09,485.90 478.16,484.83 478.23,483.60 478.31,482.22 478.38,480.68 478.45,479.00 478.52,477.18 478.59,475.23 478.66,473.15 478.74,470.96 478.81,468.66 478.88,466.25 478.95,463.76 479.02,461.18 479.09,458.53 479.17,455.82 479.24,453.05 479.31,450.24 479.38,447.40 479.45,444.54 479.52,441.66 479.59,438.78 479.67,435.91 479.74,433.06 479.81,430.24 479.88,427.45 479.95,424.72 480.02,422.04 480.10,419.43 480.17,416.89 480.24,414.44 480.31,412.08 480.38,409.83 480.45,407.68 480.53,405.65 480.60,403.74 480.67,401.95 480.74,400.31 480.81,398.80 480.88,397.44 480.95,396.22 481.03,395.16 481.10,394.25 481.17,393.50 481.24,392.91 481.31,392.48 481.38,392.21 481.46,392.10 481.53,392.15 481.60,392.36 481.67,392.73 481.74,393.25 481.81,393.93 481.89,394.76 481.96,395.73 482.03,396.84 482.10,398.09 482.17,399.48 482.24,400.98 482.31,402.61 482.39,404.35 482.46,406.19 482.53,408.14 482.60,410.17 482.67,412.29 482.74,414.48 482.82,416.74 482.89,419.06 482.96,421.43 483.03,423.84 483.10,426.28 483.17,428.74 483.25,431.22 483.32,433.70 483.39,436.18 483.46,438.65 483.53,441.09 483.60,443.50 483.68,445.88 483.75,448.21 483.82,450.48 483.89,452.70 483.96,454.84 484.03,456.90 484.10,458.89 484.18,460.78 484.25,462.57 484.32,464.27 484.39,465.85 484.46,467.33 484.53,468.69 484.61,469.93 484.68,471.04 484.75,472.03 484.82,472.89 484.89,473.62 484.96,474.22 485.04,474.68 485.11,475.01 485.18,475.21 485.25,475.27 485.32,475.20 485.39,475.00 485.46,474.67 485.54,474.21 485.61,473.63 485.68,472.93 485.75,472.12 485.82,471.19 485.89,470.15 485.97,469.01 486.04,467.77 486.11,466.44 486.18,465.02 486.25,463.51 486.32,461.94 486.40,460.29 486.47,458.59 486.54,456.82 486.61,455.01 486.68,453.16 486.75,451.28 486.82,449.37 486.90,447.43 486.97,445.49 487.04,443.54 487.11,441.59 487.18,439.65 487.25,437.73 487.33,435.83 487.40,433.96 487.47,432.12 487.54,430.33 487.61,428.58 487.68,426.89 487.76,425.25 487.83,423.68 487.90,422.18 487.97,420.76 488.04,419.41 488.11,418.14 488.18,416.97 488.26,415.87 488.33,414.88 488.40,413.97 488.47,413.16 488.54,412.45 488.61,411.85 488.69,411.34 488.76,410.93 488.83,410.62 488.90,410.42 488.97,410.31 489.04,410.31 489.12,410.40 489.19,410.59 489.26,410.87 489.33,411.25 489.40,411.72 489.47,412.27 489.55,412.91 489.62,413.63 489.69,414.42 489.76,415.29 489.83,416.22 489.90,417.22 489.97,418.28 490.05,419.39 490.12,420.55 490.19,421.76 490.26,423.01 490.33,424.29 490.40,425.60 490.48,426.93 490.55,428.29 490.62,429.65 490.69,431.03 490.76,432.41 490.83,433.78 490.91,435.15 490.98,436.51 491.05,437.85 491.12,439.17 491.19,440.46 491.26,441.72 491.33,442.95 491.41,444.14 491.48,445.29 491.55,446.39 491.62,447.44 491.69,448.44 491.76,449.39 491.84,450.27 491.91,451.10 491.98,451.87 492.05,452.57 492.12,453.21 492.19,453.78 492.27,454.29 492.34,454.72 492.41,455.09 492.48,455.39 492.55,455.63 492.62,455.79 492.69,455.89 492.77,455.92 492.84,455.89 492.91,455.79 492.98,455.63 493.05,455.41 493.12,455.13 493.20,454.80 493.27,454.42 493.34,453.98 493.41,453.49 493.48,452.96 493.55,452.39 493.63,451.77 493.70,451.13 493.77,450.44 493.84,449.73 493.91,448.99 493.98,448.23 494.05,447.45 494.13,446.65 494.20,445.84 494.27,445.02 494.34,444.20 494.41,443.37 494.48,442.55 494.56,441.72 494.63,440.91 494.70,440.10 494.77,439.31 494.84,438.53 494.91,437.77 494.99,437.03 495.06,436.31 495.13,435.62 495.20,434.96 495.27,434.33 495.34,433.72 495.42,433.15 495.49,432.62 495.56,432.12 495.63,431.65 495.70,431.23 495.77,430.84 495.84,430.49 495.92,430.18 495.99,429.90 496.06,429.67 496.13,429.48 496.20,429.32 496.27,429.21 496.35,429.13 496.42,429.09 496.49,429.08 496.56,429.11 496.63,429.17 496.70,429.27 496.78,429.40 496.85,429.55 496.92,429.74 496.99,429.95 497.06,430.19 497.13,430.45 497.20,430.74 497.28,431.04 497.35,431.36 497.42,431.70 497.49,432.05 497.56,432.41 497.63,432.78 497.71,433.17 497.78,433.55 497.85,433.95 497.92,434.34 497.99,434.74 498.06,435.14 498.14,435.53 498.21,435.92 498.28,436.30 498.35,436.68 498.42,437.05 498.49,437.41 498.56,437.76 498.64,438.10 498.71,438.42 498.78,438.73 498.85,439.03 498.92,439.31 498.99,439.57 499.07,439.82 499.14,440.05 499.21,440.26 499.28,440.45 499.35,440.63 499.42,440.79 499.50,440.93 499.57,441.05 499.64,441.16 499.71,441.24 499.78,441.32 499.85,441.37 499.92,441.41 500.00,441.43 500.07,441.44 500.14,441.43 500.21,441.41 500.28,441.38 500.35,441.33 500.43,441.28 500.50,441.21 500.57,441.13 500.64,441.05 500.71,440.96 500.78,440.86 500.86,440.75 500.93,440.64 501.00,440.53 501.07,440.41 501.14,440.29 501.21,440.17 501.29,440.04 501.36,439.92 501.43,439.80 501.50,439.68 501.57,439.56 501.64,439.44 501.71,439.32 501.79,439.21 501.86,439.11 501.93,439.01 502.00,438.91 502.07,438.82 502.14,438.73 502.22,438.65 502.29,438.57 502.36,438.50 502.43,438.44 502.50,438.38 502.57,438.33 502.65,438.28 502.72,438.24 502.79,438.21 502.86,438.18 502.93,438.16 503.00,438.14 503.07,438.12 503.15,438.11 503.22,438.11 503.29,438.11 503.36,438.11 503.43,438.11 503.50,438.12 503.58,438.13 503.65,438.15 503.72,438.16 503.79,438.18 503.86,438.19 503.93,438.21 504.01,438.23 504.08,438.24 504.15,438.26 504.22,438.28 504.29,438.30 504.36,438.31 504.43,438.33 504.51,438.34 504.58,438.35 504.65,438.36 504.72,438.37 504.79,438.38 504.86,438.39 504.94,438.39 505.01,438.40 505.08,438.40 505.15,438.40 505.22,438.40 505.29,438.40 505.37,438.40 505.44,438.40 505.51,438.40 505.58,438.40 505.65,438.40 505.72,438.40 505.79,438.40 505.87,438.40 505.94,438.40 506.01,438.40 506.08,438.40" fill="none" stroke="#ff0000" stroke-width="1" stroke-linejoin="round"/>
<polyline points="84.80,438.40 800.41,438.40 800.48,438.40 800.55,438.40 800.62,438.40 800.69,438.40 800.76,438.40 800.84,438.40 800.91,438.40 800.98,438.40 801.05,438.40 801.12,438.40 801.19,438.40 801.27,438.40 801.34,438.40 801.41,438.40 801.48,438.40 801.55,438.40 801.62,438.39 801.69,438.39 801.77,438.38 801.84,438.38 801.91,438.37 801.98,438.36 802.05,438.35 802.12,438.34 802.20,438.33 802.27,438.32 802.34,438.30 802.41,438.29 802.48,438.28 802.55,438.27 802.63,438.25 802.70,438.24 802.77,438.23 802.84,438.22 802.91,438.21 802.98,438.20 803.05,438.20 803.13,438.19 803.20,438.19 803.27,438.19 803.34,438.20 803.41,438.20 803.48,438.21 803.56,438.23 803.63,438.24 803.70,438.26 803.77,438.29 803.84,438.31 803.91,438.35 803.99,438.38 804.06,438.42 804.13,438.46 804.20,438.51 804.27,438.57 804.34,438.62 804.42,438.68 804.49,438.75 804.56,438.81 804.63,438.88 804.70,438.96 804.77,439.03 804.84,439.11 804.92,439.19 804.99,439.28 805.06,439.36 805.13,439.44 805.20,439.53 805.27,439.62 805.35,439.70 805.42,439.78 805.49,439.87 805.56,439.94 805.63,440.02 805.70,440.09 805.78,440.16 805.85,440.23 805.92,440.28 805.99,440.34 806.06,440.38 806.13,440.42 806.20,440.45 806.28,440.47 806.35,440.49 806.42,440.49 806.49,440.49 806.56,440.47 806.63,440.44 806.71,440.40 806.78,440.35 806.85,440.29 806.92,440.22 806.99,440.13 807.06,440.03 807.14,439.92 807.21,439.80 807.28,439.66 807.35,439.51 807.42,439.35 807.49,439.18 807.56,439.00 807.64,438.80 807.71,438.59 807.78,438.38 807.85,438.15 807.92,437.92 807.99,437.67 808.07,437.42 808.14,437.16 808.21,436.90 808.28,436.63 808.35,436.36 808.42,436.08 808.50,435.81 808.57,435.53 808.64,435.25 808.71,434.98 808.78,434.71 808.85,434.44 808.92,434.18 809.00,433.92 809.07,433.68 809.14,433.44 809.21,433.22 809.28,433.01 809.35,432.81 809.43,432.62 809.50,432.46 809.57,432.31 809.64,432.18 809.71,432.07 809.78,431.98 809.86,431.91 809.93,431.86 810.00,431.84 810.07,431.85 810.14,431.87 810.21,431.93 810.28,432.01 810.36,432.11 810.43,432.25 810.50,432.41 810.57,432.60 810.64,432.81 810.71,433.06 810.79,433.33 810.86,433.62 810.93,433.94 811.00,434.29 811.07,434.66 811.14,435.06 811.22,435.48 811.29,435.92 811.36,436.38 811.43,436.86 811.50,437.36 811.57,437.87 811.65,438.40 811.72,438.94 811.79,439.49 811.86,440.05 811.93,440.62 812.00,441.19 812.07,441.77 812.15,442.34 812.22,442.91 812.29,443.48 812.36,444.05 812.43,444.60 812.50,445.14 812.58,445.67 812.65,446.18 812.72,446.68 812.79,447.15 812.86,447.60 812.93,448.03 813.01,448.43 813.08,448.80 813.15,449.13 813.22,449.44 813.29,449.71 813.36,449.94 813.43,450.13 813.51,450.28 813.58,450.39 813.65,450.45 813.72,450.48 813.79,450.45 813.86,450.38 813.94,450.27 814.01,450.10 814.08,449.89 814.15,449.64 814.22,449.33 814.29,448.98 814.37,448.58 814.44,448.13 814.51,447.64 814.58,447.11 814.65,446.53 814.72,445.91 814.79,445.25 814.87,444.55 814.94,443.82 815.01,443.05 815.08,442.25 815.15,441.42 815.22,440.56 815.30,439.68 815.37,438.78 815.44,437.86 815.51,436.92 815.58,435.98 815.65,435.02 815.73,434.06 815.80,433.10 815.87,432.14 815.94,431.19 816.01,430.25 816.08,429.32 816.15,428.40 816.23,427.51 816.30,426.64 816.37,425.80 816.44,424.99 816.51,424.21 816.58,423.47 816.66,422.78 816.73,422.12 816.80,421.52 816.87,420.96 816.94,420.46 817.01,420.02 817.09,419.63 817.16,419.30 817.23,419.04 817.30,418.84 817.37,418.71 817.44,418.64 817.52,418.64 817.59,418.71 817.66,418.86 817.73,419.07 817.80,419.35 817.87,419.70 817.94,420.13 818.02,420.62 818.09,421.18 818.16,421.81 818.23,422.50 818.30,423.26 818.37,424.08 818.45,424.96 818.52,425.90 818.59,426.89 818.66,427.93 818.73,429.03 818.80,430.16 818.88,431.34 818.95,432.56 819.02,433.80 819.09,435.08 819.16,436.38 819.23,437.71 819.30,439.04 819.38,440.39 819.45,441.75 819.52,443.11 819.59,444.46 819.66,445.80 819.73,447.13 819.81,448.45 819.88,449.73 819.95,450.99 820.02,452.22 820.09,453.41 820.16,454.55 820.24,455.65 820.31,456.69 820.38,457.68 820.45,458.61 820.52,459.47 820.59,460.26 820.66,460.98 820.74,461.63 820.81,462.20 820.88,462.68 820.95,463.09 821.02,463.40 821.09,463.63 821.17,463.77 821.24,463.82 821.31,463.77 821.38,463.63 821.45,463.40 821.52,463.08 821.60,462.66 821.67,462.15 821.74,461.55 821.81,460.86 821.88,460.09 821.95,459.22 822.02,458.27 822.10,457.25 822.17,456.14 822.24,454.96 822.31,453.71 822.38,452.39 822.45,451.01 822.53,449.57 822.60,448.07 822.67,446.53 822.74,444.95 822.81,443.32 822.88,441.67 822.96,439.98 823.03,438.28 823.10,436.56 823.17,434.84 823.24,433.11 823.31,431.38 823.39,429.66 823.46,427.96 823.53,426.28 823.60,424.63 823.67,423.02 823.74,421.44 823.81,419.91 823.89,418.44 823.96,417.02 824.03,415.67 824.10,414.38 824.17,413.17 824.24,412.03 824.32,410.98 824.39,410.02 824.46,409.15 824.53,408.37 824.60,407.69 824.67,407.11 824.75,406.64 824.82,406.28 824.89,406.02 824.96,405.87 825.03,405.83 825.10,405.91 825.17,406.10 825.25,406.40 825.32,406.81 825.39,407.33 825.46,407.96 825.53,408.70 825.60,409.54 825.68,410.49 825.75,411.54 825.82,412.69 825.89,413.93 825.96,415.26 826.03,416.67 826.11,418.17 826.18,419.74 826.25,421.38 826.32,423.09 826.39,424.85 826.46,426.67 826.53,428.53 826.61,430.44 826.68,432.38 826.75,434.34 826.82,436.33 826.89,438.33 826.96,440.33 827.04,442.33 827.11,444.33 827.18,446.31 827.25,448.26 827.32,450.19 827.39,452.08 827.47,453.92 827.54,455.71 827.61,457.45 827.68,459.12 827.75,460.73 827.82,462.26 827.89,463.70 827.97,465.06 828.04,466.33 828.11,467.50 828.18,468.57 828.25,469.53 828.32,470.38 828.40,471.13 828.47,471.75 828.54,472.26 828.61,472.64 828.68,472.91 828.75,473.05 828.83,473.07 828.90,472.96 828.97,472.72 829.04,472.37 829.11,471.88 829.18,471.28 829.26,470.56 829.33,469.72 829.40,468.76 829.47,467.69 829.54,466.52 829.61,465.24 829.68,463.86 829.76,462.38 829.83,460.81 829.90,459.16 829.97,457.43 830.04,455.63 830.11,453.76 830.19,451.83 830.26,449.84 830.33,447.81 830.40,445.74 830.47,443.64 830.54,441.51 830.62,439.36 830.69,437.21 830.76,435.05 830.83,432.90 830.90,430.76 830.97,428.65 831.04,426.56 831.12,424.50 831.19,422.50 831.26,420.54 831.33,418.64 831.40,416.80 831.47,415.04 831.55,413.35 831.62,411.74 831.69,410.23 831.76,408.81 831.83,407.48 831.90,406.27 831.98,405.16 832.05,404.16 832.12,403.29 832.19,402.53 832.26,401.89 832.33,401.38 832.40,400.99 832.48,400.73 832.55,400.60 832.62,400.60 832.69,400.73 832.76,400.99 832.83,401.38 832.91,401.89 832.98,402.53 833.05,403.29 833.12,404.16 833.19,405.16 833.26,406.27 833.34,407.48 833.41,408.81 833.48,410.23 833.55,411.74 833.62,413.35 833.69,415.04 833.76,416.80 833.84,418.64 833.91,420.54 833.98,422.50 834.05,424.50 834.12,426.56 834.19,428.65 834.27,430.76 834.34,432.90 834.41,435.05 834.48,437.21 834.55,439.36 834.62,441.51 834.70,443.64 834.77,445.74 834.84,447.81 834.91,449.84 834.98,451.83 835.05,453.76 835.13,455.63 835.20,457.43 835.27,459.16 835.34,460.81 835.41,462.38 835.48,463.86 835.55,465.24 835.63,466.52 835.70,467.69 835.77,468.76 835.84,469.72 835.91,470.56 835.98,471.28 836.06,471.88 836.13,472.37 836.20,472.72 836.27,472.96 836.34,473.07 836.41,473.05 836.49,472.91 836.56,472.64 836.63,472.26 836.70,471.75 836.77,471.13 836.84,470.38 836.91,469.53 836.99,468.57 837.06,467.50 837.13,466.33 837.20,465.06 837.27,463.70 837.34,462.26 837.42,460.73 837.49,459.12 837.56,457.45 837.63,455.71 837.70,453.92 837.77,452.08 837.85,450.19 837.92,448.26 837.99,446.31 838.06,444.33 838.13,442.33 838.20,440.33 838.27,438.33 838.35,436.33 838.42,434.34 838.49,432.38 838.56,430.44 838.63,428.53 838.70,426.67 838.78,424.85 838.85,423.09 838.92,421.38 838.99,419.74 839.06,418.17 839.13,416.67 839.21,415.26 839.28,413.93 839.35,412.69 839.42,411.54 839.49,410.49 839.56,409.54 839.63,408.70 839.71,407.96 839.78,407.33 839.85,406.81 839.92,406.40 839.99,406.10 840.06,405.91 840.14,405.83 840.21,405.87 840.28,406.02 840.35,406.28 840.42,406.64 840.49,407.11 840.57,407.69 840.64,408.37 840.71,409.15 840.78,410.02 840.85,410.98 840.92,412.03 840.99,413.17 841.07,414.38 841.14,415.67 841.21,417.02 841.28,418.44 841.35,419.91 841.42,421.44 841.50,423.02 841.57,424.63 841.64,426.28 841.71,427.96 841.78,429.66 841.85,431.38 841.93,433.11 842.00,434.84 842.07,436.56 842.14,438.28 842.21,439.98 842.28,441.67 842.36,443.32 842.43,444.95 842.50,446.53 842.57,448.07 842.64,449.57 842.71,451.01 842.78,452.39 842.86,453.71 842.93,454.96 843.00,456.14 843.07,457.25 843.14,458.27 843.21,459.22 843.29,460.09 843.36,460.86 843.43,461.55 843.50,462.15 843.57,462.66 843.64,463.08 843.72,463.40 843.79,463.63 843.86,463.77 843.93,463.82 844.00,463.77 844.07,463.63 844.14,463.40 844.22,463.09 844.29,462.68 844.36,462.20 844.43,461.63 844.50,460.98 844.57,460.26 844.65,459.47 844.72,458.61 844.79,457.68 844.86,456.69 844.93,455.65 845.00,454.55 845.08,453.41 845.15,452.22 845.22,450.99 845.29,449.73 845.36,448.45 845.43,447.13 845.50,445.80 845.58,444.46 845.65,443.11 845.72,441.75 845.79,440.39 845.86,439.04 845.93,437.71 846.01,436.38 846.08,435.08 846.15,433.80 846.22,432.56 846.29,431.34 846.36,430.16 846.44,429.03 846.51,427.93 846.58,426.89 846.65,425.90 846.72,424.96 846.79,424.08 846.86,423.26 846.94,422.50 847.01,421.81 847.08,421.18 847.15,420.62 847.22,420.13 847.29,419.70 847.37,419.35 847.44,419.07 847.51,418.86 847.58,418.71 847.65,418.64 847.72,418.64 847.80,418.71 847.87,418.84 847.94,419.04 848.01,419.30 848.08,419.63 848.15,420.02 848.23,420.46 848.30,420.96 848.37,421.52 848.44,422.12 848.51,422.78 848.58,423.47 848.65,424.21 848.73,424.99 848.80,425.80 848.87,426.64 848.94,427.51 849.01,428.40 849.08,429.32 849.16,430.25 849.23,431.19 849.30,432.14 849.37,433.10 849.44,434.06 849.51,435.02 849.59,435.98 849.66,436.92 849.73,437.86 849.80,438.78 849.87,439.68 849.94,440.56 850.01,441.42 850.09,442.25 850.16,443.05 850.23,443.82 850.30,444.55 850.37,445.25 850.44,445.91 850.52,446.53 850.59,447.11 850.66,447.64 850.73,448.13 850.80,448.58 850.87,448.98 850.95,449.33 851.02,449.64 851.09,449.89 851.16,450.10 851.23,450.27 851.30,450.38 851.37,450.45 851.45,450.48 851.52,450.45 851.59,450.39 851.66,450.28 851.73,450.13 851.80,449.94 851.88,449.71 851.95,449.44 852.02,449.13 852.09,448.80 852.16,448.43 852.23,448.03 852.31,447.60 852.38,447.15 852.45,446.68 852.52,446.18 852.59,445.67 852.66,445.14 852.73,444.60 852.81,444.05 852.88,443.48 852.95,442.91 853.02,442.34 853.09,441.77 853.16,441.19 853.24,440.62 853.31,440.05 853.38,439.49 853.45,438.94 853.52,438.40 853.59,437.87 853.67,437.36 853.74,436.86 853.81,436.38 853.88,435.92 853.95,435.48 854.02,435.06 854.10,434.66 854.17,434.29 854.24,433.94 854.31,433.62 854.38,433.33 854.45,433.06 854.52,432.81 854.60,432.60 854.67,432.41 854.74,432.25 854.81,432.11 854.88,432.01 854.95,431.93 855.03,431.87 855.10,431.85 855.17,431.84 855.24,431.86 855.31,431.91 855.38,431.98 855.46,432.07 855.53,432.18 855.60,432.31 855.67,432.46 855.74,432.62 855.81,432.81 855.88,433.01 855.96,433.22 856.03,433.44 856.10,433.68 856.17,433.92 856.24,434.18 856.31,434.44 856.39,434.71 856.46,434.98 856.53,435.25 856.60,435.53 856.67,435.81 856.74,436.08 856.82,436.36 856.89,436.63 856.96,436.90 857.03,437.16 857.10,437.42 857.17,437.67 857.24,437.92 857.32,438.15 857.39,438.38 857.46,438.59 857.53,438.80 857.60,439.00 857.67,439.18 857.75,439.35 857.82,439.51 857.89,439.66 857.96,439.80 858.03,439.92 858.10,440.03 858.18,440.13 858.25,440.22 858.32,440.29 858.39,440.35 858.46,440.40 858.53,440.44 858.60,440.47 858.68,440.49 858.75,440.49 858.82,440.49 858.89,440.47 858.96,440.45 859.03,440.42 859.11,440.38 859.18,440.34 859.25,440.28 859.32,440.23 859.39,440.16 859.46,440.09 859.54,440.02 859.61,439.94 859.68,439.87 859.75,439.78 859.82,439.70 859.89,439.62 859.97,439.53 860.04,439.44 860.11,439.36 860.18,439.28 860.25,439.19 860.32,439.11 860.39,439.03 860.47,438.96 860.54,438.88 860.61,438.81 860.68,438.75 860.75,438.68 860.82,438.62 860.90,438.57 860.97,438.51 861.04,438.46 861.11,438.42 861.18,438.38 861.25,438.35 861.33,438.31 861.40,438.29 861.47,438.26 861.54,438.24 861.61,438.23 861.68,438.21 861.75,438.20 861.83,438.20 861.90,438.19 861.97,438.19 862.04,438.19 862.11,438.20 862.18,438.20 862.26,438.21 862.33,438.22 862.40,438.23 862.47,438.24 862.54,438.25 862.61,438.27 862.69,438.28 862.76,438.29 862.83,438.30 862.90,438.32 862.97,438.33 863.04,438.34 863.11,438.35 863.19,438.36 863.26,438.37 863.33,438.38 863.40,438.38 863.47,438.39 863.54,438.39 863.62,438.40 863.69,438.40 863.76,438.40 863.83,438.40 863.90,438.40 863.97,438.40 864.05,438.40 864.12,438.40 864.19,438.40 864.26,438.40 864.33,438.40 864.40,438.40 864.47,438.40 864.55,438.40 864.62,438.40 864.69,438.40 864.76,438.40 999.80,438.40" fill="none" stroke="#000000" stroke-width="1" stroke-linejoin="round"/>
<path d="M199.18,548.4V539.4M199.18,328.4V337.4M313.55,548.4V539.4M313.55,328.4V337.4M427.93,548.4V539.4M427.93,328.4V337.4M542.30,548.4V539.4M542.30,328.4V337.4M656.67,548.4V539.4M656.67,328.4V337.4M771.05,548.4V539.4M771.05,328.4V337.4M885.42,548.4V539.4M885.42,328.4V337.4M84.8,493.40H93.8M999.8,493.40H990.8M84.8,438.40H93.8M999.8,438.40H990.8M84.8,383.40H93.8M999.8,383.40H990.8" stroke="#000" stroke-width="1.3" fill="none"/>
<rect x="84.8" y="328.4" width="915.0" height="220.0" stroke="#000" stroke-width="1.3" fill="none"/>
<text transform="translate(84.80 570.80) scale(0.97 1)" font-size="20.4" font-family="&quot;Liberation Sans&quot;, sans-serif" text-anchor="middle">0</text>
<text transform="translate(199.18 570.80) scale(0.97 1)" font-size="20.4" font-family="&quot;Liberation Sans&quot;, sans-serif" text-anchor="middle">0.5</text>
<text transform="translate(313.55 570.80) scale(0.97 1)" font-size="20.4" font-family="&quot;Liberation Sans&quot;, sans-serif" text-anchor="middle">1</text>
<text transform="translate(427.93 570.80) scale(0.97 1)" font-size="20.4" font-family="&quot;Liberation Sans&quot;, sans-serif" text-anchor="middle">1.5</text>
<text transform="translate(542.30 570.80) scale(0.97 1)" font-size="20.4" font-family="&quot;Liberation Sans&quot;, sans-serif" text-anchor="middle">2</text>
<text transform="translate(656.67 570.80) scale(0.97 1)" font-size="20.4" font-family="&quot;Liberation Sans&quot;, sans-serif" text-anchor="middle">2.5</text>
<text transform="translate(771.05 570.80) scale(0.97 1)" font-size="20.4" font-family="&quot;Liberation Sans&quot;, sans-serif" text-anchor="middle">3</text>
<text transform="translate(885.42 570.80) scale(0.97 1)" font-size="20.4" font-family="&quot;Liberation Sans&quot;, sans-serif" text-anchor="middle">3.5</text>
<text transform="translate(999.80 570.80) scale(0.97 1)" font-size="20.4" font-family="&quot;Liberation Sans&quot;, sans-serif" text-anchor="middle">4</text>
<text transform="translate(69.17 555.75) scale(0.97 1)" font-size="20.4" font-family="&quot;Liberation Sans&quot;, sans-serif" text-anchor="start">4</text>
<text transform="translate(59.03 554.13)" font-size="17.7" font-family="&quot;Liberation Sans&quot;, sans-serif" text-anchor="start">−</text>
<text transform="translate(69.59 500.75) scale(0.97 1)" font-size="20.4" font-family="&quot;Liberation Sans&quot;, sans-serif" text-anchor="start">2</text>
<text transform="translate(59.03 499.13)" font-size="17.7" font-family="&quot;Liberation Sans&quot;, sans-serif" text-anchor="start">−</text>
<text transform="translate(69.37 445.75) scale(0.97 1)" font-size="20.4" font-family="&quot;Liberation Sans&quot;, sans-serif" text-anchor="start">0</text>
<text transform="translate(69.59 390.75) scale(0.97 1)" font-size="20.4" font-family="&quot;Liberation Sans&quot;, sans-serif" text-anchor="start">2</text>
<text transform="translate(69.17 335.75) scale(0.97 1)" font-size="20.4" font-family="&quot;Liberation Sans&quot;, sans-serif" text-anchor="start">4</text>
<text transform="translate(84.78 323.00) scale(0.97 1)" font-size="20.4" font-family="&quot;Liberation Sans&quot;, sans-serif" text-anchor="start">x</text>
<text transform="translate(100.09 323.00) scale(0.97 1)" font-size="20.4" font-family="&quot;Liberation Sans&quot;, sans-serif" text-anchor="start">10</text>
<text transform="translate(122.53 310.22)" font-size="11.5" font-family="&quot;Liberation Sans&quot;, sans-serif" text-anchor="start">−</text>
<text transform="translate(128.74 310.50) scale(0.97 1)" font-size="13.6" font-family="&quot;Liberation Sans&quot;, sans-serif" text-anchor="start">6</text>
<text transform="translate(502.13 591.00) scale(0.97 1)" font-size="20.4" font-family="&quot;Liberation Sans&quot;, sans-serif" text-anchor="start">time [ms]</text>
<text transform="translate(39.70 494.70) rotate(-90) scale(0.97 1)" font-size="20.4" font-family="&quot;Liberation Sans&quot;, sans-serif" text-anchor="start">v</text>
<text transform="translate(50.10 485.30) rotate(-90) scale(0.97 1)" font-size="15.2" font-family="&quot;Liberation Sans&quot;, sans-serif" text-anchor="start">node 13</text>
<text transform="translate(40.10 426.00) rotate(-90) scale(0.97 1)" font-size="20.4" font-family="&quot;Liberation Sans&quot;, sans-serif" text-anchor="start">[mm]</text>
<text transform="translate(219.74 386.20) scale(0.955 1)" font-size="21.6" font-family="&quot;Liberation Sans&quot;, sans-serif" text-anchor="start">T(0,1)</text>
<text transform="translate(493.04 386.20) scale(0.955 1)" font-size="21.6" font-family="&quot;Liberation Sans&quot;, sans-serif" text-anchor="start">T(0,1)</text>
<text transform="translate(830.44 387.40) scale(0.955 1)" font-size="21.6" font-family="&quot;Liberation Sans&quot;, sans-serif" text-anchor="start">T(0,1)</text>
<text transform="translate(961.99 360.20) scale(1.02 1)" font-size="24.3" font-family="&quot;Liberation Serif&quot;, serif" text-anchor="start">(b)</text>
</svg>
</body></html>
